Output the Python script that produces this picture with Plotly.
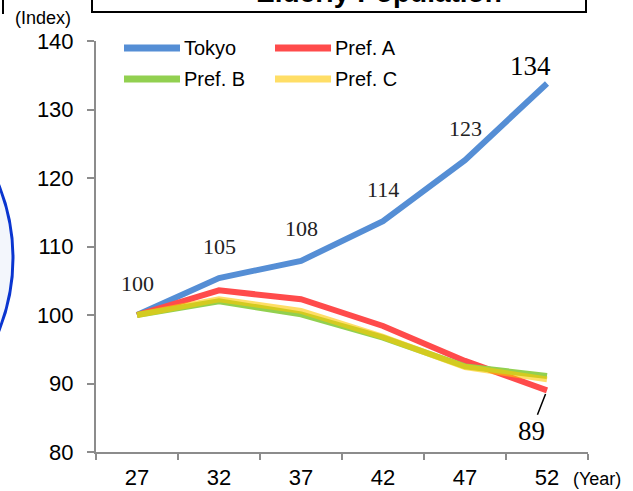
import plotly.graph_objects as go

# Index of elderly population (base year 27 = 100)
years = ["27", "32", "37", "42", "47", "52"]
tokyo = [100, 105.4, 107.9, 113.7, 122.6, 133.8]
pref_a = [100, 103.6, 102.3, 98.4, 93.3, 89.0]
pref_b = [100, 102.0, 100.1, 96.7, 92.5, 91.1]
pref_c = [100, 102.3, 100.6, 96.8, 92.4, 90.6]
tokyo_labels = ["100", "105", "108", "114", "123", "134"]
last_a_label = "89"

series = [
    ("Tokyo", tokyo, "#558ED5"),
    ("Pref. A", pref_a, "#FF4B4B"),
    ("Pref. B", pref_b, "#92D050"),
    ("Pref. C", pref_c, "rgba(255,200,0,0.6)"),
]

W, H = 633, 491
L, R, T, B = 96, 45, 41, 39
PW, PH = W - L - R, H - T - B


def px(x):
    return (x - L) / PW


def py(y):
    return (H - B - y) / PH


fig = go.Figure()
for name, vals, color in series:
    fig.add_trace(go.Scatter(
        x=years, y=vals, name=name, mode="lines",
        line=dict(color=color, width=6), showlegend=False,
    ))

serif = "Liberation Serif"
sans = "Liberation Sans"
annotations = []


def paper_text(x, y, text, size, anchor="center", family=sans):
    annotations.append(dict(
        xref="paper", yref="paper", x=px(x), y=py(y), text=text,
        xanchor=anchor, yanchor="middle", showarrow=False,
        font=dict(family=family, size=size, color="#000"),
    ))


# value labels above the Tokyo line (category axis -> positional index)
for i, (v, lab) in enumerate(zip(tokyo, tokyo_labels)):
    last = i == len(years) - 1
    annotations.append(dict(
        x=i, y=v, text=lab, showarrow=False,
        xanchor="center", yanchor="middle",
        xshift=-17 if last else 0, yshift=17 if last else 32,
        font=dict(family=serif, size=27 if last else 22,
                  color="#000" if last else "#222"),
    ))

# final value of Pref. A with a leader line
annotations.append(dict(
    x=len(years) - 1, y=pref_a[-1], text=last_a_label, showarrow=True,
    arrowhead=0, arrowwidth=1.5, arrowcolor="#000", standoff=4,
    ax=-16, ay=41, font=dict(family=serif, size=27, color="#000"),
))

# axis unit captions
paper_text(43, 18, "(Index)", 18)
paper_text(597, 479, "(Year)", 18)

# title banner, partly above the page edge
paper_text(379, -8, "<b>Elderly Population</b>", 28)

shapes = [
    dict(type="rect", xref="paper", yref="paper",
         x0=px(92), x1=px(586), y0=py(12), y1=py(-20),
         line=dict(color="#000", width=2), fillcolor="rgba(0,0,0,0)"),
    dict(type="circle", xref="paper", yref="paper",
         x0=px(-377), x1=px(13), y0=py(453), y1=py(63),
         line=dict(color="#0A35D0", width=3), fillcolor="#F3F6FC"),
    dict(type="line", xref="paper", yref="paper",
         x0=px(3), x1=px(3), y0=py(0), y1=py(14),
         line=dict(color="#000", width=2)),
]

# legend in two rows of two entries
legend_pos = [(124, 48), (275, 48), (124, 79), (275, 79)]
for (name, _, color), (lx, ly) in zip(series, legend_pos):
    shapes.append(dict(type="line", xref="paper", yref="paper",
                       x0=px(lx), x1=px(lx + 56), y0=py(ly), y1=py(ly),
                       line=dict(color=color, width=7)))
    paper_text(lx + 58, ly, name, 20, anchor="left")

axis_color = "#8C8C8C"
fig.update_layout(
    width=W, height=H,
    margin=dict(l=L, r=R, t=T, b=B),
    paper_bgcolor="white", plot_bgcolor="white",
    annotations=annotations, shapes=shapes,
    xaxis=dict(
        type="category", range=[-0.5, 5.5], showgrid=False, zeroline=False,
        automargin=False,
        showline=True, linecolor=axis_color, linewidth=2,
        ticks="outside", tickson="boundaries", ticklen=6,
        tickcolor=axis_color, tickwidth=2, ticklabelstandoff=5,
        tickfont=dict(family=sans, size=22, color="#000"),
    ),
    yaxis=dict(
        range=[80, 140], dtick=10, showgrid=False, zeroline=False,
        automargin=False,
        showline=True, linecolor=axis_color, linewidth=2,
        ticks="outside", ticklen=7, tickcolor=axis_color, tickwidth=2,
        ticklabelstandoff=9,
        tickfont=dict(family=sans, size=22, color="#000"),
    ),
)

fig.write_html("out.html")
